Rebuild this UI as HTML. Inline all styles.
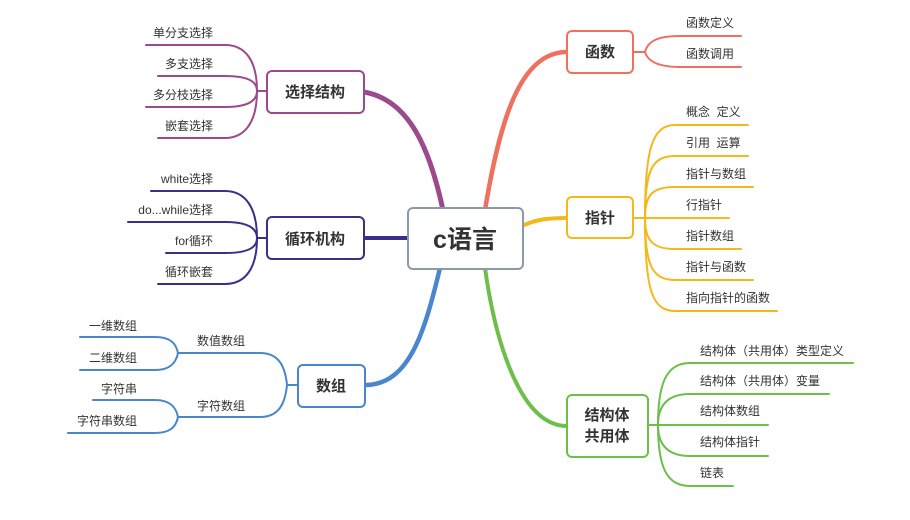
<!DOCTYPE html>
<html><head><meta charset="utf-8"><style>
html,body{margin:0;padding:0;background:#fff;}
svg{display:block;font-family:"Liberation Sans","Noto Sans CJK SC",sans-serif;}
.l{font-size:12px;fill:#333;}
.b{font-size:15px;font-weight:bold;fill:#333;}
</style></head><body>
<svg width="910" height="520" viewBox="0 0 910 520" xmlns="http://www.w3.org/2000/svg">
<g fill="none" stroke-linecap="round">
<path d="M443,210 C430,150 410,100 364,92" stroke="#9b4a8c" stroke-width="5"/>
<path d="M410,238 L364,238" stroke="#3b2f8c" stroke-width="4"/>
<path d="M440,268 C425,330 410,385 365,385" stroke="#4a86d0" stroke-width="4.5"/>
<path d="M485,210 C500,120 520,52 567,52" stroke="#f07060" stroke-width="4.5"/>
<path d="M522,226 C535,220 545,218 567,218" stroke="#f5b81b" stroke-width="4"/>
<path d="M485,268 C495,340 520,426 567,426" stroke="#6cc04a" stroke-width="4"/>
<g stroke="#9b4a8c" stroke-width="2">
<path d="M267,91 L257,91"/>
<path d="M257,91 C257,60 245,45 225,45 L146,45"/>
<path d="M257,91 C257,80 245,76 225,76 L158,76"/>
<path d="M257,91 C257,102 245,107 225,107 L146,107"/>
<path d="M257,91 C257,122 245,138 225,138 L158,138"/>
</g>
<g stroke="#3b2f8c" stroke-width="2">
<path d="M267,238 L257,238"/>
<path d="M257,238 C257,207 245,191 225,191 L151,191"/>
<path d="M257,238 C257,227 245,222 225,222 L128,222"/>
<path d="M257,238 C257,249 245,253 225,253 L166,253"/>
<path d="M257,238 C257,269 245,284 225,284 L158,284"/>
</g>
<g stroke="#4a86d0" stroke-width="2">
<path d="M298,385 L287,385"/>
<path d="M287,385 C285,365 278,353 260,353 L178,353"/>
<path d="M287,385 C285,405 278,417 260,417 L178,417"/>
<path d="M178,353 C176,343 170,337 155,337 L80,337"/>
<path d="M178,353 C176,363 170,370 155,370 L80,370"/>
<path d="M178,417 C176,407 170,400 155,400 L93,400"/>
<path d="M178,417 C176,427 170,433 155,433 L68,433"/>
</g>
<g stroke="#f07060" stroke-width="2">
<path d="M633,52 L645,52"/>
<path d="M645,52 C648,40 660,36 680,36 L741,36"/>
<path d="M645,52 C648,62 660,67 680,67 L741,67"/>
</g>
<g stroke="#f5b81b" stroke-width="2">
<path d="M633,218 L645,218"/>
<path d="M645,218 C645,150 652,125 675,125 L748,125"/>
<path d="M645,218 C645,170 652,156 675,156 L748,156"/>
<path d="M645,218 C645,195 652,187 675,187 L753,187"/>
<path d="M645,218 L729,218"/>
<path d="M645,218 C645,240 652,249 675,249 L741,249"/>
<path d="M645,218 C645,265 652,280 675,280 L753,280"/>
<path d="M645,218 C645,290 652,311 675,311 L777,311"/>
</g>
<g stroke="#6cc04a" stroke-width="2">
<path d="M648,425 L658,425"/>
<path d="M658,425 C658,380 668,363 690,363 L853,363"/>
<path d="M658,425 C658,405 668,394 690,394 L829,394"/>
<path d="M658,425 L768,425"/>
<path d="M658,425 C658,445 668,456 690,456 L768,456"/>
<path d="M658,425 C658,470 668,486 690,486 L733,486"/>
</g>
</g>
<g stroke-width="2" fill="#fff">
<rect x="408" y="208" width="115" height="61" rx="5" stroke="#8a9aa8"/>
<rect x="267" y="71" width="97" height="42" rx="5" stroke="#9b4a8c"/>
<rect x="267" y="217" width="97" height="42" rx="5" stroke="#3b2f8c"/>
<rect x="298" y="365" width="67" height="42" rx="5" stroke="#4a86d0"/>
<rect x="567" y="31" width="66" height="42" rx="5" stroke="#f07060"/>
<rect x="567" y="197" width="66" height="41" rx="5" stroke="#f5b81b"/>
<rect x="567" y="395" width="81" height="62" rx="5" stroke="#6cc04a"/>
</g>
<text x="465" y="248" text-anchor="middle" font-size="25" font-weight="bold" fill="#333">c语言</text>
<text x="315" y="97" text-anchor="middle" class="b">选择结构</text>
<text x="315" y="244" text-anchor="middle" class="b">循环机构</text>
<text x="331" y="391" text-anchor="middle" class="b">数组</text>
<text x="600" y="57" text-anchor="middle" class="b">函数</text>
<text x="600" y="223" text-anchor="middle" class="b">指针</text>
<text x="607" y="420" text-anchor="middle" class="b">结构体</text>
<text x="607" y="441" text-anchor="middle" class="b">共用体</text>
<g class="l" text-anchor="end">
<text x="213" y="37">单分支选择</text>
<text x="213" y="68">多支选择</text>
<text x="213" y="99">多分枝选择</text>
<text x="213" y="130">嵌套选择</text>
<text x="213" y="183">white选择</text>
<text x="213" y="214">do...while选择</text>
<text x="213" y="245">for循环</text>
<text x="213" y="276">循环嵌套</text>
<text x="137" y="330">一维数组</text>
<text x="137" y="362">二维数组</text>
<text x="137" y="393">字符串</text>
<text x="137" y="425">字符串数组</text>
</g>
<g class="l">
<text x="197" y="345">数值数组</text>
<text x="197" y="410">字符数组</text>
<text x="686" y="27">函数定义</text>
<text x="686" y="58">函数调用</text>
<text x="686" y="116">概念&#160;&#160;定义</text>
<text x="686" y="147">引用&#160;&#160;运算</text>
<text x="686" y="178">指针与数组</text>
<text x="686" y="209">行指针</text>
<text x="686" y="240">指针数组</text>
<text x="686" y="271">指针与函数</text>
<text x="686" y="302">指向指针的函数</text>
<text x="700" y="355">结构体（共用体）类型定义</text>
<text x="700" y="385">结构体（共用体）变量</text>
<text x="700" y="415">结构体数组</text>
<text x="700" y="446">结构体指针</text>
<text x="700" y="477">链表</text>
</g>
</svg>
</body></html>
